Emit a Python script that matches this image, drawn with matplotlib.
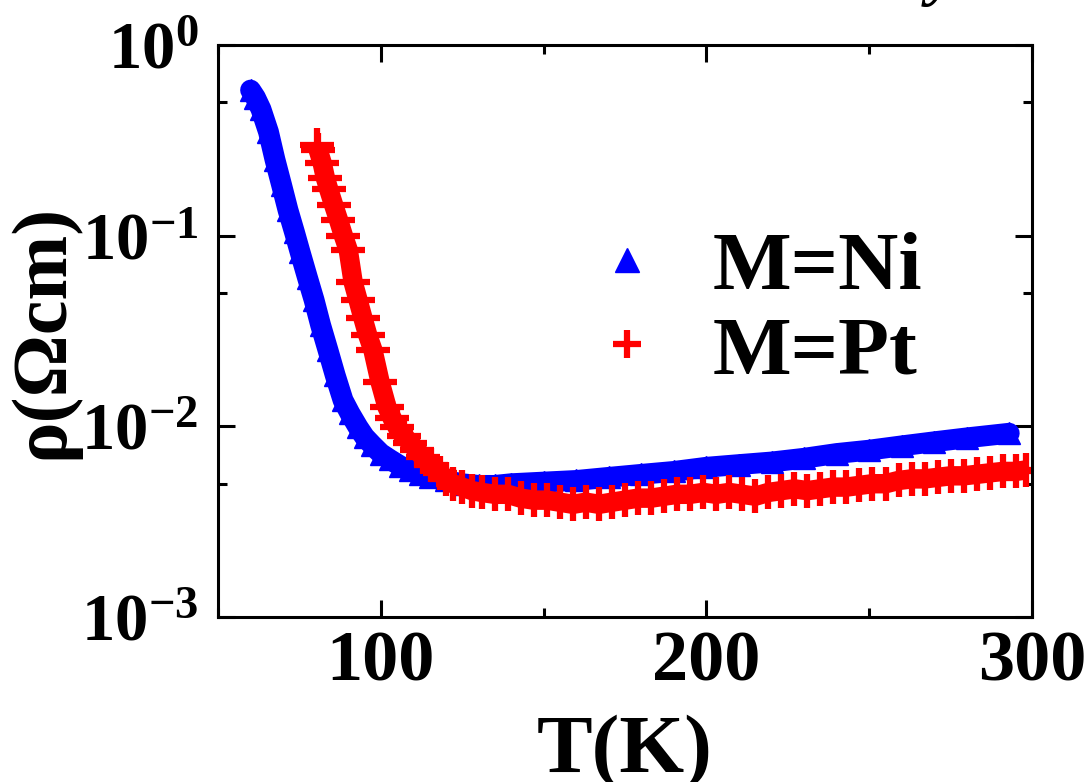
import matplotlib
matplotlib.use("Agg")
import matplotlib.pyplot as plt
from matplotlib.lines import Line2D
from matplotlib.ticker import FixedLocator, LogLocator, MultipleLocator, NullFormatter

# Resistivity vs temperature for the two compounds
t_ni = [60.0, 61.5, 63.2, 65.5, 67.5, 69.5, 71.5, 73.5, 75.2, 77.5, 79.5, 81.5,
        83.8, 86.0, 88.4, 90.5, 93.0, 95.0, 97.3, 100.0, 102.8, 106.0, 109.0,
        112.0, 115.0, 120.0, 125.0, 130.0, 135.0, 140.0, 150.0, 160.0, 170.0,
        180.0, 190.0, 200.0, 210.0, 220.0, 230.0, 240.0, 250.0, 260.0, 270.0,
        280.0, 293.0]
rho_ni = [0.58, 0.53, 0.46, 0.35, 0.25, 0.185, 0.136, 0.104, 0.082, 0.060,
          0.046, 0.034, 0.025, 0.0185, 0.0137, 0.0117, 0.0099, 0.0088, 0.0080,
          0.0072, 0.0067, 0.0062, 0.0059, 0.0056, 0.0054, 0.0052, 0.0050,
          0.0049, 0.0049, 0.0050, 0.0051, 0.0052, 0.0054, 0.0056, 0.0058,
          0.0061, 0.0063, 0.0065, 0.0068, 0.0072, 0.0075, 0.0079, 0.0083,
          0.0087, 0.0092]

t_pt = [80.5, 80.8, 82.0, 83.0, 84.0, 85.5, 87.0, 88.5, 90.0, 91.5, 93.0, 94.5,
        96.0, 97.6, 99.8, 101.9, 103.5, 105.0, 107.0, 109.0, 111.0, 113.0,
        115.5, 118.2, 120.0, 122.2, 125.0, 128.0, 131.0, 135.0, 139.0, 143.0,
        147.0, 151.0, 155.0, 159.0, 163.0, 167.0, 171.0, 175.0, 179.0, 183.0,
        187.0, 191.0, 195.0, 199.0, 203.0, 207.0, 211.0, 215.0, 219.0, 223.0,
        227.0, 231.0, 235.0, 239.0, 243.0, 247.0, 251.0, 255.0, 259.0, 263.0,
        267.0, 271.0, 275.0, 279.0, 283.0, 287.0, 291.0, 295.0, 298.0]
rho_pt = [0.30, 0.28, 0.24, 0.20, 0.175, 0.145, 0.121, 0.100, 0.084, 0.057,
          0.046, 0.037, 0.030, 0.025, 0.017, 0.0126, 0.0110, 0.0099, 0.0089,
          0.0082, 0.0075, 0.0069, 0.0063, 0.0057, 0.0053, 0.0050, 0.0048,
          0.0046, 0.0045, 0.0044, 0.0044, 0.0042, 0.0041, 0.0041, 0.0040,
          0.0039, 0.0040, 0.0039, 0.0040, 0.0041, 0.0042, 0.0042, 0.0043,
          0.0044, 0.0044, 0.0045, 0.0044, 0.0045, 0.0044, 0.0043, 0.0045,
          0.0046, 0.0047, 0.0046, 0.0047, 0.0048, 0.0048, 0.0049, 0.0050,
          0.0050, 0.0052, 0.0053, 0.0053, 0.0054, 0.0055, 0.0055, 0.0056,
          0.0057, 0.0058, 0.0058, 0.0059]

labels = ["M=Ni", "M=Pt"]
x_ticks = [100, 200, 300]
y_ticks = [1e-3, 1e-2, 1e-1, 1e0]
y_ticklabels = [r"$\mathbf{10^{-3}}$", r"$\mathbf{10^{-2}}$",
                r"$\mathbf{10^{-1}}$", r"$\mathbf{10^{0}}$"]

plt.rcParams["font.family"] = ["Liberation Serif", "DejaVu Serif"]
plt.rcParams["font.weight"] = "bold"
plt.rcParams["mathtext.fontset"] = "custom"
plt.rcParams["mathtext.rm"] = "Liberation Serif:bold"
plt.rcParams["mathtext.bf"] = "Liberation Serif:bold"

fig = plt.figure(figsize=(10.89, 7.82), dpi=100)
ax = fig.add_axes([0.2002, 0.2110, 0.7475, 0.7315])

ax.plot(t_ni, rho_ni, color="blue", lw=15, marker="^", ms=16,
        solid_capstyle="round", solid_joinstyle="round")
ax.plot(t_pt, rho_pt, color="red", lw=14, marker="+", ms=24, mew=4.5,
        solid_capstyle="butt", solid_joinstyle="round")

ax.set_yscale("log")
ax.set_xlim(50, 300)
ax.set_ylim(1e-3, 1e0)

ax.xaxis.set_major_locator(FixedLocator(x_ticks))
ax.xaxis.set_minor_locator(MultipleLocator(50))
ax.yaxis.set_major_locator(FixedLocator(y_ticks))
ax.yaxis.set_minor_locator(LogLocator(base=10, subs=[5]))
ax.yaxis.set_minor_formatter(NullFormatter())
ax.set_yticklabels(y_ticklabels)

ax.tick_params(which="both", direction="in", top=True, right=True, width=2.2)
ax.tick_params(which="major", length=12)
ax.tick_params(which="minor", length=6.5)
ax.tick_params(axis="x", labelsize=52, pad=10)
ax.tick_params(axis="y", labelsize=48, pad=14)
for s in ax.spines.values():
    s.set_linewidth(2.2)

ax.set_xlabel("T(K)", fontsize=60, fontweight="bold", labelpad=14)
ax.set_ylabel("ρ(Ωcm)", fontsize=56, fontweight="bold", labelpad=1)

handles = [
    Line2D([], [], ls="none", marker="^", color="blue", ms=17),
    Line2D([], [], ls="none", marker="+", color="red", ms=20, mew=4.5),
]
ax.legend(handles, labels, loc="center left", bbox_to_anchor=(0.474, 0.535),
          frameon=False, fontsize=60, handlelength=0.55, handletextpad=0.75,
          labelspacing=0.1, borderaxespad=0, borderpad=0)

fig.text(958 / 1089, 1.0 + 7 / 782, "Resistivity", ha="right", va="baseline",
         fontsize=48, fontweight="bold", fontstyle="italic")

fig.savefig("out.png", dpi=100)
